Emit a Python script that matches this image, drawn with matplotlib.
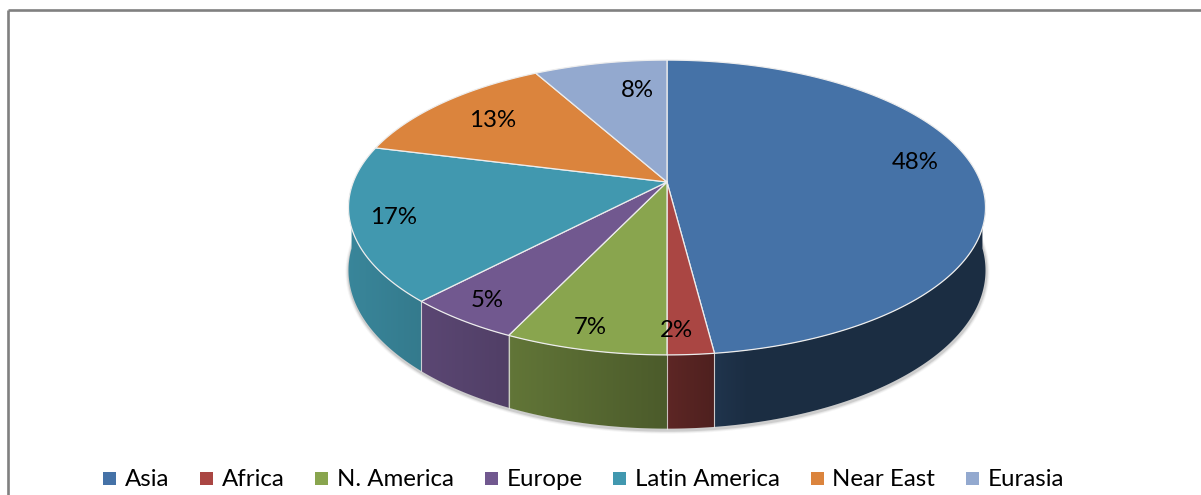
import numpy as np
import matplotlib
matplotlib.use("Agg")
import matplotlib.pyplot as plt
from matplotlib.patches import Polygon, Rectangle
from matplotlib.colors import to_rgb

# ---- data ----
categories = ["Asia", "Africa", "N. America", "Europe", "Latin America", "Near East", "Eurasia"]
values = [48, 2, 7, 5, 17, 13, 8]
labels = ["48%", "2%", "7%", "5%", "17%", "13%", "8%"]
top_colors = ["#4572A7", "#AA4643", "#89A54E", "#71588F", "#4198AF", "#DB843D", "#93A9CF"]

# label placement (radius fraction and angle tweak inside each slice)
LABEL_R = [0.82, 0.88, 0.89, 0.88, 0.87, 0.76, 0.73]
LABEL_DANG = [-6.0, 2.0, 1.0, 0.5, 0.5, 0.0, 6.0]

FONT = ["Lato", "DejaVu Sans"]

W, H = 1201, 495
fig = plt.figure(figsize=(W / 100, H / 100), dpi=100)
ax = fig.add_axes([0, 0, 1, 1])
ax.set_xlim(0, W)
ax.set_ylim(H, 0)
ax.axis("off")
renderer = fig.canvas.get_renderer()

# fit font size so that the text widths resemble the original
probe = ax.text(0, 0, "Latin America", fontsize=18.7, family=FONT)
pw = probe.get_window_extent(renderer).width
probe.remove()
FS = 18.7 * 145.0 / pw

# ---- perspective projection of a unit disk ----
CX, CY = 667, 182
SX, SY, K, DEPTH = 313.7, 143.0, 0.173, 61.0
HALF_W = SX / np.sqrt(1 - K ** 2)


def proj(x, y, h=0.0):
    w = 1 - K * y
    return CX + SX * x / w, CY + (SY * y + h) / w


def rim(theta, h=0.0, r=1.0):
    t = np.radians(theta)
    return proj(r * np.sin(t), -r * np.cos(t), h)


def shade(u):
    u = np.asarray(u, dtype=float)
    left = 0.55 + 0.33 * (-u)
    right = np.maximum(0.40, 0.55 - 0.6 * u)
    return np.where(u < 0, left, right)


total = float(sum(values))
bounds = np.concatenate([[0], np.cumsum(values)]) / total * 360.0

# ---- soft drop shadow around the lower silhouette ----
full = np.linspace(0, 360, 721)
bottom = np.array([rim(t, DEPTH) for t in full])
for lw, alpha in [(7, 0.06), (5, 0.10), (3, 0.18)]:
    ax.plot(bottom[:, 0] + 0.5, bottom[:, 1] + 1.5, color="#606060", lw=lw * 0.72,
            alpha=alpha, zorder=1, solid_joinstyle="round")

# ---- side faces with horizontal gradient ----
VIS0, VIS1 = 92.0, 268.0
x0, x1 = CX - HALF_W - 2, CX + HALF_W + 2
cols = np.linspace(x0, x1, 700)
u = (cols - CX) / HALF_W
for i, (a0, a1) in enumerate(zip(bounds[:-1], bounds[1:])):
    s0, s1 = max(a0, VIS0), min(a1, VIS1)
    if s1 <= s0:
        continue
    ts = np.linspace(s0, s1, max(3, int((s1 - s0) / 0.25)))
    pts = [rim(t) for t in ts] + [rim(t, DEPTH) for t in ts[::-1]]
    poly = Polygon(pts, closed=True, facecolor="none", edgecolor="none")
    ax.add_patch(poly)
    base = np.array(to_rgb(top_colors[i]))
    img = np.clip(base[None, :] * shade(u)[:, None], 0, 1)[None, :, :]
    ys = [p[1] for p in pts]
    im = ax.imshow(img, extent=[x0, x1, max(ys) + 2, min(ys) - 2], aspect="auto",
                   interpolation="bilinear", zorder=2)
    im.set_clip_path(poly)

ax.set_xlim(0, W)
ax.set_ylim(H, 0)

# boundary lines on the side
for b in bounds[:-1]:
    if VIS0 < b < VIS1:
        p0 = rim(b)
        p1 = rim(b, DEPTH)
        ax.plot([p0[0], p1[0]], [p0[1], p1[1]], color="#E6E6E6", lw=0.8,
                alpha=0.8, zorder=3)

# ---- top wedges ----
for i, (a0, a1) in enumerate(zip(bounds[:-1], bounds[1:])):
    ts = np.linspace(a0, a1, max(3, int((a1 - a0) / 0.5)))
    pts = [proj(0, 0)] + [rim(t) for t in ts]
    ax.add_patch(Polygon(pts, closed=True, facecolor=top_colors[i],
                         edgecolor="#EDEDED", linewidth=0.9, joinstyle="round",
                         zorder=4))

# ---- data labels ----
for i, (a0, a1) in enumerate(zip(bounds[:-1], bounds[1:])):
    tm = 0.5 * (a0 + a1) + LABEL_DANG[i]
    lx, ly = rim(tm, 0, LABEL_R[i])
    ax.text(lx, ly, labels[i], ha="center", va="center", fontsize=FS,
            family=FONT, color="black", zorder=6)

# ---- frame lines ----
ax.plot([8, W + 5], [10, 10], color="#808080", lw=1.9, solid_capstyle="butt", zorder=7)
ax.plot([8, 8], [10, H + 5], color="#808080", lw=1.9, solid_capstyle="butt", zorder=7)

# ---- legend ----
x = 103.0
base_y = 486.0
for i, name in enumerate(categories):
    ax.add_patch(Rectangle((x, 472), 13, 13, facecolor=top_colors[i],
                           edgecolor="none", zorder=6))
    t = ax.text(x + 22, base_y, name, ha="left", va="baseline", fontsize=FS,
                family=FONT, color="black", zorder=6)
    bb = t.get_window_extent(renderer)
    x = x + 22 + bb.width + 30.5

fig.savefig("out.png", dpi=100)
